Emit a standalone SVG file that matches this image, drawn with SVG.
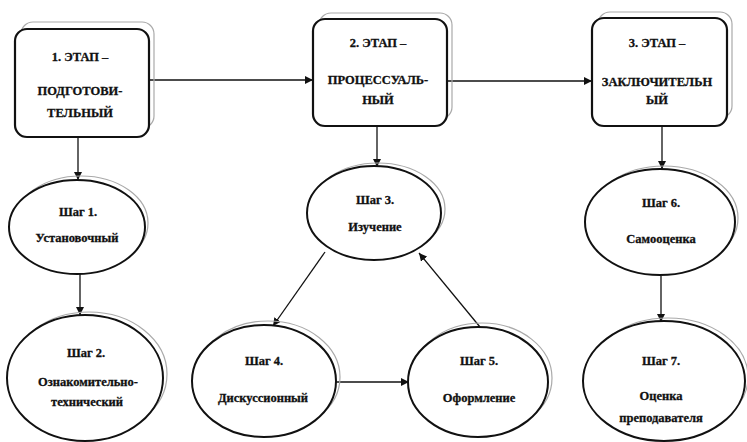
<svg xmlns="http://www.w3.org/2000/svg" width="747" height="442" viewBox="0 0 747 442">
<style>
.box{fill:#fff;stroke:#111;stroke-width:2.2}
.sh{fill:none;stroke:#aaa;stroke-width:1.2}
.el{fill:#fff;stroke:#111;stroke-width:2}
.t{font-family:'Liberation Serif','Times New Roman',serif;font-weight:bold;font-size:12.5px;fill:#111;text-anchor:middle;stroke:#111;stroke-width:0.3}
.c{fill:none;stroke:#111;stroke-width:1.3}
</style>
<defs>
<marker id="a" viewBox="0 0 10 10" refX="10" refY="5" markerWidth="8" markerHeight="8" markerUnits="userSpaceOnUse" orient="auto">
<path d="M0,0 L10,5 L0,10 z" fill="#111"/>
</marker>
</defs>
<rect width="747" height="442" fill="#fff"/>
<g id="connectors">
<line class="c" x1="149" y1="80" x2="313" y2="80" marker-end="url(#a)"/>
<line class="c" x1="447" y1="81" x2="592" y2="81" marker-end="url(#a)"/>
<line class="c" x1="78" y1="137" x2="78" y2="180" marker-end="url(#a)"/>
<line class="c" x1="80" y1="274" x2="80" y2="315" marker-end="url(#a)"/>
<line class="c" x1="377" y1="126" x2="377" y2="167" marker-end="url(#a)"/>
<line class="c" x1="325" y1="252" x2="273" y2="326" marker-end="url(#a)"/>
<line class="c" x1="480" y1="327" x2="419" y2="253" marker-end="url(#a)"/>
<line class="c" x1="336" y1="382" x2="409" y2="382" marker-end="url(#a)"/>
<line class="c" x1="662" y1="126" x2="662" y2="169" marker-end="url(#a)"/>
<line class="c" x1="661" y1="276" x2="661" y2="322" marker-end="url(#a)"/>
</g>
<g id="stage1">
<rect class="sh" x="21" y="22" width="133" height="106" rx="12"/>
<rect class="box" x="15" y="29" width="134" height="108" rx="12"/>
<text class="t" x="80" y="61">1. ЭТАП –</text>
<text class="t" x="80" y="95">ПОДГОТОВИ-</text>
<text class="t" x="80" y="117">ТЕЛЬНЫЙ</text>
</g>
<g id="stage2">
<rect class="sh" x="319" y="13" width="133" height="106" rx="12"/>
<rect class="box" x="313" y="19" width="134" height="107" rx="12"/>
<text class="t" x="378" y="47">2. ЭТАП –</text>
<text class="t" x="378" y="84">ПРОЦЕССУАЛЬ-</text>
<text class="t" x="378" y="104">НЫЙ</text>
</g>
<g id="stage3">
<rect class="sh" x="598" y="12" width="134" height="106" rx="12"/>
<rect class="box" x="592" y="18" width="135" height="108" rx="12"/>
<text class="t" x="657" y="47">3. ЭТАП –</text>
<text class="t" x="657" y="86">ЗАКЛЮЧИТЕЛЬН</text>
<text class="t" x="657" y="104">ЫЙ</text>
</g>
<g id="step1">
<ellipse class="sh" cx="81" cy="223" rx="67" ry="47"/>
<ellipse class="el" cx="77" cy="227" rx="68" ry="47"/>
<text class="t" x="78" y="216">Шаг 1.</text>
<text class="t" x="77" y="242">Установочный</text>
</g>
<g id="step2">
<ellipse class="sh" cx="89" cy="374" rx="78" ry="62"/>
<ellipse class="el" cx="85" cy="378" rx="78" ry="63"/>
<text class="t" x="86" y="357">Шаг 2.</text>
<text class="t" x="88" y="386">Ознакомительно-</text>
<text class="t" x="87" y="406">технический</text>
</g>
<g id="step3">
<ellipse class="sh" cx="378" cy="209" rx="67" ry="46"/>
<ellipse class="el" cx="374" cy="213" rx="67" ry="47"/>
<text class="t" x="375" y="204">Шаг 3.</text>
<text class="t" x="375" y="231">Изучение</text>
</g>
<g id="step4">
<ellipse class="sh" cx="268" cy="377" rx="72" ry="56"/>
<ellipse class="el" cx="264" cy="381" rx="72" ry="56"/>
<text class="t" x="264" y="365">Шаг 4.</text>
<text class="t" x="263" y="402">Дискуссионный</text>
</g>
<g id="step5">
<ellipse class="sh" cx="482" cy="378" rx="70" ry="55"/>
<ellipse class="el" cx="478" cy="382" rx="70" ry="55"/>
<text class="t" x="479" y="365">Шаг 5.</text>
<text class="t" x="479" y="402">Оформление</text>
</g>
<g id="step6">
<ellipse class="sh" cx="664" cy="218" rx="74" ry="52"/>
<ellipse class="el" cx="660" cy="222" rx="75" ry="53"/>
<text class="t" x="661" y="207">Шаг 6.</text>
<text class="t" x="661" y="243">Самооценка</text>
</g>
<g id="step7">
<ellipse class="sh" cx="668" cy="377" rx="80" ry="59"/>
<ellipse class="el" cx="664" cy="381" rx="81" ry="60"/>
<text class="t" x="661" y="365">Шаг 7.</text>
<text class="t" x="661" y="400">Оценка</text>
<text class="t" x="661" y="422">преподавателя</text>
</g>
</svg>
